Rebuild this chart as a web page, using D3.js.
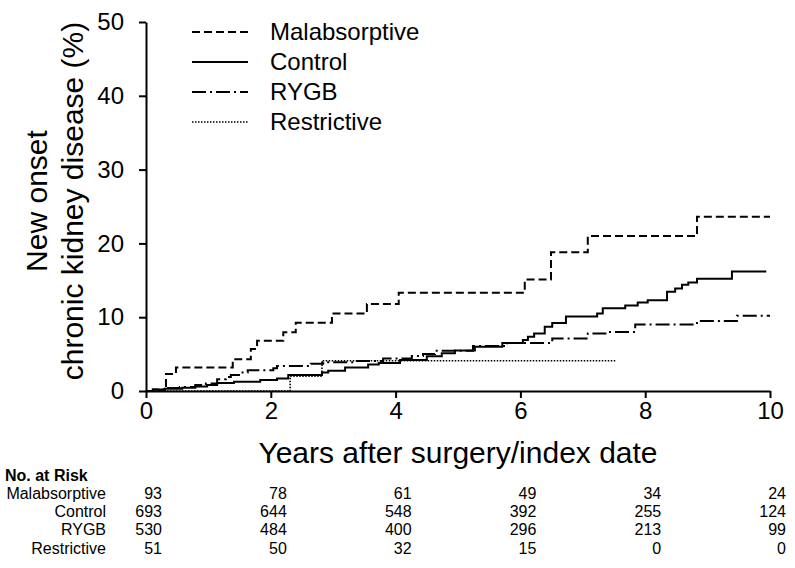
<!DOCTYPE html>
<html>
<head>
<meta charset="utf-8">
<script src="https://cdn.jsdelivr.net/npm/d3@7"></script>
<style>
  html, body { margin: 0; padding: 0; background: #fff; }
  svg { display: block; font-family: "Liberation Sans", Arial, sans-serif; }
</style>
</head>
<body>
<svg id="chart" width="795" height="568"></svg>
<script>
// ---------- DATA ----------
const seriesNames = ["Malabsorptive", "Control", "RYGB", "Restrictive"];

// step times (years) and cumulative incidence (%) after each step
const malabsorptiveTimes  = [0, 0.32, 0.48, 1.39, 1.68, 1.78, 2.20, 2.40, 2.98, 3.54, 4.05, 6.07, 6.49, 7.08, 8.83, 10.0];
const malabsorptiveValues = [0, 2.3, 3.2, 4.3, 5.7, 6.8, 7.95, 9.25, 10.5, 11.8, 13.3, 15.1, 18.8, 21.0, 23.6, 23.6];

const controlTimes  = [0, 0.11, 0.30, 0.58, 0.79, 0.98, 1.14, 1.41, 1.83, 2.10, 2.28, 2.82, 2.92, 3.19, 3.56, 3.73, 4.07, 4.50, 4.74, 4.95, 5.27, 5.71, 6.04, 6.12, 6.22, 6.39, 6.51, 6.73, 7.23, 7.32, 7.68, 7.88, 8.04, 8.35, 8.48, 8.59, 8.69, 8.83, 9.39, 9.94];
const controlValues = [0, 0.2, 0.3, 0.45, 0.6, 0.8, 1.1, 1.26, 1.5, 1.7, 2.17, 2.5, 2.75, 3.2, 3.6, 3.8, 4.2, 4.7, 5.1, 5.5, 6.0, 6.5, 6.9, 7.36, 7.8, 8.7, 9.2, 10.1, 10.5, 11.2, 11.6, 12.0, 12.3, 13.45, 13.9, 14.4, 14.7, 15.2, 16.2, 16.2];

const rygbTimes  = [0, 0.11, 0.32, 0.54, 0.79, 0.96, 1.14, 1.28, 1.36, 1.51, 1.63, 2.04, 2.10, 2.64, 2.84, 3.38, 3.80, 4.26, 4.44, 4.63, 5.24, 5.79, 6.51, 7.08, 7.39, 7.84, 8.83, 9.47, 10.0];
const rygbValues = [0, 0.2, 0.4, 0.55, 0.8, 1.0, 1.6, 1.9, 2.17, 2.5, 2.8, 3.07, 3.4, 3.7, 3.9, 4.07, 4.4, 4.75, 5.0, 5.46, 6.1, 6.5, 7.1, 7.8, 8.0, 9.0, 9.5, 10.2, 10.2];

const restrictiveTimes  = [0, 2.31, 2.82, 7.54];
const restrictiveValues = [0, 2.0, 4.1, 4.1];

const xTicks = [0, 2, 4, 6, 8, 10];
const yTicks = [0, 10, 20, 30, 40, 50];

// Number at risk table
const riskLabels = ["Malabsorptive", "Control", "RYGB", "Restrictive"];
const riskTimes = [0, 2, 4, 6, 8, 10];
const riskMalabsorptive = [93, 78, 61, 49, 34, 24];
const riskControl = [693, 644, 548, 392, 255, 124];
const riskRYGB = [530, 484, 400, 296, 213, 99];
const riskRestrictive = [51, 50, 32, 15, 0, 0];

// ---------- DRAW ----------
const svg = d3.select("#chart");
const x = d3.scaleLinear().domain([0, 10]).range([146, 770]);
const y = d3.scaleLinear().domain([0, 50]).range([391, 22]);

const styles = {
  "Malabsorptive": "8,4",
  "Control": null,
  "RYGB": "14,4,2,4",
  "Restrictive": "1.5,1.5"
};
const seriesData = {
  "Malabsorptive": [malabsorptiveTimes, malabsorptiveValues],
  "Control": [controlTimes, controlValues],
  "RYGB": [rygbTimes, rygbValues],
  "Restrictive": [restrictiveTimes, restrictiveValues]
};

const line = d3.line().x(d => x(d[0])).y(d => y(d[1])).curve(d3.curveStepAfter);

const drawOrder = ["Restrictive", "RYGB", "Control", "Malabsorptive"];
drawOrder.forEach(name => {
  const [ts, vs] = seriesData[name];
  const pts = ts.map((t, i) => [t, vs[i]]);
  svg.append("path")
    .datum(pts)
    .attr("d", line)
    .attr("fill", "none")
    .attr("stroke", "#000")
    .attr("stroke-width", name === "Restrictive" ? 1.6 : 2)
    .attr("stroke-dasharray", styles[name]);
});

// Axes
const xAxis = svg.append("g")
  .attr("transform", "translate(0,391)")
  .call(d3.axisBottom(x).tickValues(xTicks).tickSize(7).tickPadding(4).tickSizeOuter(0).tickFormat(d3.format("d")));
const yAxis = svg.append("g")
  .attr("transform", "translate(146,0)")
  .call(d3.axisLeft(y).tickValues(yTicks).tickSize(7).tickPadding(15).tickSizeOuter(0).tickFormat(d3.format("d")));

[xAxis, yAxis].forEach(g => {
  g.select(".domain").attr("stroke", "#000").attr("stroke-width", 2);
  g.selectAll(".tick line").attr("stroke", "#000").attr("stroke-width", 2);
  g.selectAll(".tick text").attr("font-size", 24).attr("fill", "#000")
    .attr("font-family", "'Liberation Sans', Arial, sans-serif");
});

// Axis titles
svg.append("text")
  .attr("x", 458).attr("y", 463)
  .attr("text-anchor", "middle")
  .attr("font-size", 30)
  .attr("fill", "#000")
  .text("Years after surgery/index date");

const yt = svg.append("g").attr("transform", "translate(0,201) rotate(-90)");
yt.append("text").attr("x", 0).attr("y", 47).attr("text-anchor", "middle")
  .attr("font-size", 30).attr("fill", "#000").text("New onset");
yt.append("text").attr("x", 0).attr("y", 83).attr("text-anchor", "middle")
  .attr("font-size", 30).attr("fill", "#000").text("chronic kidney disease (%)");

// Legend
const legendY = [32, 62, 92, 122];
seriesNames.forEach((name, i) => {
  svg.append("line")
    .attr("x1", 192).attr("x2", 248)
    .attr("y1", legendY[i]).attr("y2", legendY[i])
    .attr("stroke", "#000")
    .attr("stroke-width", name === "Restrictive" ? 1.4 : 2)
    .attr("stroke-dasharray", styles[name]);
  svg.append("text")
    .attr("x", 270).attr("y", legendY[i])
    .attr("dy", "0.35em")
    .attr("font-size", 24).attr("fill", "#000")
    .text(name);
});

// Risk table
svg.append("text")
  .attr("x", 5).attr("y", 481)
  .attr("font-size", 16).attr("font-weight", "bold").attr("fill", "#000")
  .text("No. at Risk");

const riskRows = [riskMalabsorptive, riskControl, riskRYGB, riskRestrictive];
const rowY = [499, 517, 535, 554];
riskRows.forEach((row, r) => {
  svg.append("text")
    .attr("x", 106).attr("y", rowY[r])
    .attr("text-anchor", "end")
    .attr("font-size", 16).attr("fill", "#000")
    .text(riskLabels[r]);
  row.forEach((v, c) => {
    svg.append("text")
      .attr("x", x(riskTimes[c]) + 16).attr("y", rowY[r])
      .attr("text-anchor", "end")
      .attr("font-size", 16).attr("fill", "#000")
      .text(v);
  });
});
</script>
</body>
</html>
